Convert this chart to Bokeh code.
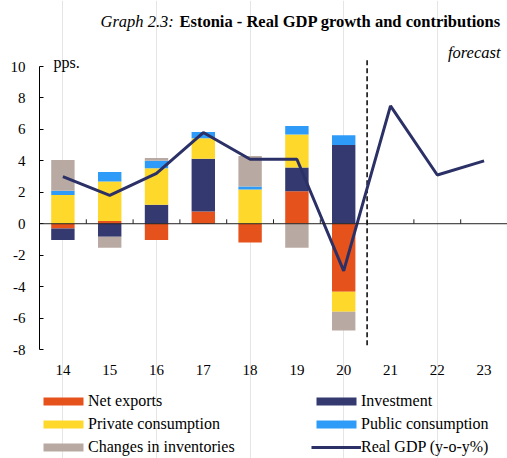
import numpy as np
from bokeh.plotting import figure
from bokeh.models import (ColumnDataSource, Span, Label, Legend, LegendItem,
                          FixedTicker, Range1d)
from bokeh.core.properties import value
from bokeh.embed import file_html
from bokeh.resources import INLINE

# ---- data (pps. contributions, real GDP y-o-y %) ----
years = ["14", "15", "16", "17", "18", "19", "20", "21", "22", "23"]
net_exports = [-0.30, 0.17, -1.04, 0.77, -1.19, 2.06, -4.33, 0, 0, 0]
investment = [-0.74, -0.83, 1.21, 3.37, 0.00, 1.51, 5.01, 0, 0, 0]
private_cons = [1.83, 2.51, 2.32, 1.30, 2.17, 2.10, -1.27, 0, 0, 0]
public_cons = [0.26, 0.61, 0.48, 0.40, 0.19, 0.55, 0.62, 0, 0, 0]
inventories = [1.96, -0.70, 0.17, 0.00, 1.95, -1.53, -1.19, 0, 0, 0]
real_gdp = [3.0, 1.8, 3.2, 5.8, 4.1, 4.1, -3.0, 7.5, 3.1, 4.0]
y_ticks = [-8, -6, -4, -2, 0, 2, 4, 6, 8, 10]
y_tick_labels = ["-8", "-6", "-4", "-2", "0", "2", "4", "6", "8", "10"]
forecast_start = "21"

series = [
    ("Net exports", net_exports, "#E6521C"),
    ("Investment", investment, "#343A70"),
    ("Private consumption", private_cons, "#FED82A"),
    ("Public consumption", public_cons, "#2F9BF8"),
    ("Changes in inventories", inventories, "#B8AAA3"),
]

FONT = "Liberation Serif"
n = len(years)
xs = np.arange(n)

# ---- layout constants (pixels) ----
W, H = 507, 458
LEFT = 39
Y_TOP_PX, Y_BOT_PX = 66, 349          # where y = 10 and y = -8 sit (figure px)
ppu = (Y_BOT_PX - Y_TOP_PX) / (y_ticks[-1] - y_ticks[0])
y_hi = y_ticks[-1] + Y_TOP_PX / ppu
y_lo = y_ticks[0] - (H - Y_BOT_PX) / ppu

p = figure(width=W, height=H, output_backend="svg", toolbar_location=None,
           x_range=Range1d(-0.5, n - 0.5), y_range=Range1d(y_lo, y_hi),
           x_axis_location=None,
           min_border_left=LEFT, min_border_right=0, min_border_top=0,
           min_border_bottom=0)
p.outline_line_color = None
p.ygrid.visible = False
p.background_fill_color = None
p.border_fill_color = None

# stacked bars (positive and negative stacked separately)
pos_base = np.zeros(n)
neg_base = np.zeros(n)
renderers = {}
for name, vals, color in series:
    v = np.array(vals, dtype=float)
    bottom = np.where(v >= 0, pos_base, neg_base)
    top = bottom + v
    pos_base = np.where(v >= 0, pos_base + v, pos_base)
    neg_base = np.where(v < 0, neg_base + v, neg_base)
    src = ColumnDataSource(dict(x=xs, bottom=bottom, top=top))
    renderers[name] = p.vbar(x="x", width=0.5, bottom="bottom", top="top",
                             source=src, fill_color=color, line_color=None)

# zero line and category boundary ticks
p.add_layout(Span(location=0, dimension="width", line_color="#222222", line_width=1))
p.segment(x0=xs + 0.5, y0=np.zeros(n), x1=xs + 0.5, y1=np.full(n, 0.28),
          line_color="#222222", line_width=1)

# forecast divider
fx = years.index(forecast_start) - 0.5
p.segment(x0=[fx], y0=[y_ticks[-1] + 0.4], x1=[fx], y1=[y_ticks[0] + 0.1],
          line_color="black", line_width=1.5, line_dash="5 3")

# GDP line
gdp_r = p.line(xs, real_gdp, line_color="#2B3166", line_width=3)

# x tick labels (category labels below the plot area)
p.text(x=xs, y=np.full(n, y_ticks[0]), text=years, y_offset=20,
       text_align="center", text_baseline="middle", text_font=value(FONT),
       text_font_size="15px", text_color="black")

# y axis
p.yaxis.ticker = FixedTicker(ticks=y_ticks)
p.yaxis.major_label_overrides = {t: s for t, s in zip(y_ticks, y_tick_labels)}
p.yaxis.bounds = (y_ticks[0], y_ticks[-1])
p.yaxis.axis_line_color = "black"
p.yaxis.major_tick_line_color = "black"
p.yaxis.major_tick_in = 4
p.yaxis.major_tick_out = 0
p.yaxis.minor_tick_line_color = None
p.yaxis.major_label_standoff = 14
p.yaxis.major_label_text_font = FONT
p.yaxis.major_label_text_font_size = "15px"
p.yaxis.major_label_text_color = "black"

# texts (screen units relative to plot frame bottom-left)
def lab(text, x, y_fig, align, style="normal", size="16.5px"):
    return Label(x=x, y=H - y_fig, x_units="screen", y_units="screen", text=text,
                 text_align=align, text_baseline="alphabetic", text_font=FONT,
                 text_font_size=size, text_font_style=style, text_color="black")

p.add_layout(lab("Graph 2.3:", 61, 21, "left", "italic"))
p.add_layout(lab("Estonia - Real GDP growth and contributions", 140, 21, "left", "bold"))
p.add_layout(lab("forecast", 461, 52, "right", "italic"))
p.add_layout(lab("pps.", 14, 62, "left", "normal", "16px"))

# legends
def make_legend(items, loc):
    return Legend(items=items, location=loc, orientation="vertical",
                  label_text_font=FONT, label_text_font_size="16px",
                  label_text_color="black", glyph_width=50, glyph_height=10,
                  label_height=18, label_standoff=0, spacing=5, padding=0,
                  margin=0, border_line_color=None, background_fill_alpha=0)

left_items = [LegendItem(label=nm, renderers=[renderers[nm]])
              for nm in ["Net exports", "Private consumption", "Changes in inventories"]]
right_items = [LegendItem(label=nm, renderers=[renderers[nm]])
               for nm in ["Investment", "Public consumption"]]
right_items.append(LegendItem(label="Real GDP (y-o-y%)", renderers=[gdp_r]))

p.add_layout(make_legend(left_items, (-1, 2)))
p.add_layout(make_legend(right_items, (272, 2)))

open("out.html", "w").write(file_html(p, INLINE))
